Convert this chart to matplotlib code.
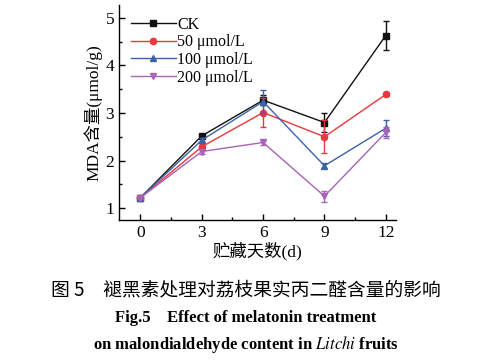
import matplotlib.pyplot as plt
import numpy as np

days = [0, 3, 6, 9, 12]
labels = ['CK', '50 μmol/L', '100 μmol/L', '200 μmol/L']
ck = [1.22, 2.52, 3.27, 2.80, 4.63]
ck_err = [0.03, 0.04, 0.10, 0.19, 0.30]
m50 = [1.22, 2.29, 3.01, 2.50, 3.39]
m50_err = [0.03, 0.05, 0.30, 0.35, 0.03]
m100 = [1.22, 2.43, 3.24, 1.89, 2.68]
m100_err = [0.03, 0.05, 0.25, 0.05, 0.17]
m200 = [1.22, 2.19, 2.38, 1.25, 2.59]
m200_err = [0.03, 0.05, 0.06, 0.12, 0.12]

series = [ck, m50, m100, m200]
errors = [ck_err, m50_err, m100_err, m200_err]
colors = ['#111111', '#e8383d', '#3c62a8', '#a763b8']
markers = ['s', 'o', '^', 'v']

serif = ['Liberation Serif', 'Noto Sans CJK SC']
plt.rcParams['font.family'] = serif
plt.rcParams['mathtext.fontset'] = 'stix'

fig = plt.figure(figsize=(4.91, 3.63), dpi=100)
ax = fig.add_axes([0.2424, 0.394, 0.5641, 0.592])

for y, e, c, m, lab in zip(series, errors, colors, markers, labels):
    ax.errorbar(days, y, yerr=e, fmt='none', ecolor=c,
                elinewidth=1.0, capsize=2.5, capthick=1.0)
    ax.plot(days, y, color=c, marker=m, markersize=4.5, linewidth=1.0,
            label=lab)

ax.set_xlim(-1.05, 12.5)
ax.set_ylim(0.75, 5.27)
ax.set_xticks(days)
ax.set_xticks([1.5, 4.5, 7.5, 10.5], minor=True)
ax.set_yticks([1, 2, 3, 4, 5])
ax.set_yticks([1.5, 2.5, 3.5, 4.5], minor=True)
ax.tick_params(direction='in', length=4, width=1, labelsize=12.5)
ax.tick_params(which='minor', direction='in', length=2, width=1)
ax.spines[['top', 'right']].set_visible(False)
for s in ['left', 'bottom']:
    ax.spines[s].set_linewidth(1.0)

ax.set_ylabel('MDA含量(μmol/g)', fontsize=12.5, labelpad=2)
ax.set_xlabel('贮藏天数(d)', fontsize=12.5, labelpad=1)

leg = ax.legend(loc='upper left', bbox_to_anchor=(0.008, 0.99), frameon=False,
                fontsize=11.5, handlelength=2.8, handletextpad=0.1,
                labelspacing=0.1, borderaxespad=0.2)

fig.text(0.5, 0.2, '图 5　褪黑素处理对荔枝果实丙二醛含量的影响', ha='center',
         va='center', fontsize=13.5, family=['Noto Sans CJK SC'])
fig.text(0.5, 0.123, 'Fig.5    Effect of melatonin treatment', ha='center',
         va='center', fontsize=12, fontweight='bold')
fig.text(0.5, 0.05, 'on malondialdehyde content in $\\it{Litchi}$ fruits',
         ha='center', va='center', fontsize=12, fontweight='bold')

fig.savefig('out.png', dpi=100)
